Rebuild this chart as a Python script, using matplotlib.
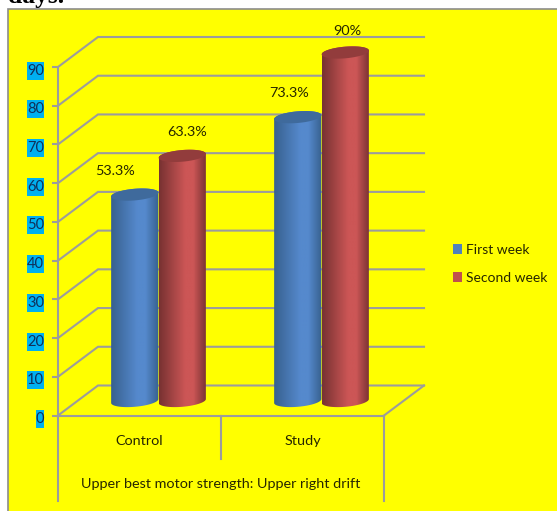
import numpy as np
import matplotlib
matplotlib.use("Agg")
import matplotlib.pyplot as plt
from matplotlib.colors import LinearSegmentedColormap
from matplotlib.patches import Patch, Polygon, Rectangle
from matplotlib.path import Path
from matplotlib.transforms import ScaledTranslation

plt.rcParams["font.family"] = ["Lato", "DejaVu Sans"]

categories = ["Control", "Study"]
first_week = [53.3, 73.3]
second_week = [63.3, 90]
series_names = ["First week", "Second week"]
y_ticks = [0, 10, 20, 30, 40, 50, 60, 70, 80, 90]
axis_title = "Upper best motor strength: Upper right drift"

W, H = 557, 511
GRAY = "#9c9c9c"
TEXT = "#262600"

fig = plt.figure(figsize=(W / 100, H / 100), dpi=100, facecolor="white")
fig.add_artist(Rectangle((8 / W, -0.01), 560 / W, 1.01 - 9 / H, transform=fig.transFigure,
                         facecolor="#ffff00", edgecolor="#8c8c8c", linewidth=1.2, zorder=-5))
fig.text(8 / W, 1 - 3 / H, "days.", family="Liberation Serif", weight="bold", fontsize=18.4,
         color="black", ha="left", va="baseline")

# front plane of the 3d box: x 58..384 px, value 0..90 = y 415.5..67 px
ax = fig.add_axes([58 / W, (H - 415.5) / H, 326 / W, 348.5 / H])
ax.patch.set_visible(False)
ax.set_xlim(0, 2)
ax.set_ylim(0, 90)

px_x = 2 / 326
px_y = 90 / 348.5
depth_x = 40 * px_x
depth_y = 30 * px_y

# walls
for v in y_ticks:
    ax.plot([0, depth_x, 2 + depth_x], [v, v + depth_y, v + depth_y], color=GRAY, lw=1.5,
            clip_on=False, zorder=1, solid_joinstyle="miter")
ax.plot([2, 2 + depth_x], [0, depth_y], color=GRAY, lw=1.5, clip_on=False, zorder=1)
ax.plot([1, 1], [0, -43 * px_y], color=GRAY, lw=1.5, clip_on=False, zorder=1)
ax.plot([0, 0], [0, -85 * px_y], color=GRAY, lw=1.5, clip_on=False, zorder=1)
ax.plot([2, 2], [0, -85 * px_y], color=GRAY, lw=1.5, clip_on=False, zorder=1)

for name in ["top", "right"]:
    ax.spines[name].set_visible(False)
for name in ["left", "bottom"]:
    ax.spines[name].set_color(GRAY)
    ax.spines[name].set_linewidth(1.5)


def tick_box(x0, y0, width, height, mutation_size):
    # tight on the digits sideways, taller than the text
    x1, y1 = x0 + width, y0 + height
    y0, y1 = y0 - 2, y1 + 2
    return Path([(x0, y0), (x1, y0), (x1, y1), (x0, y1), (x0, y0)], closed=True)


ax.set_yticks(y_ticks)
ax.tick_params(axis="y", length=4, width=1.5, color=GRAY, pad=6, labelsize=10.5, labelcolor="#10305a")
nudge = ScaledTranslation(0, -1.5 / 72, fig.dpi_scale_trans)
for lab in ax.get_yticklabels():
    lab.set_bbox(dict(facecolor="#00b0f0", edgecolor="none", boxstyle=tick_box))
    lab.set_transform(lab.get_transform() + nudge)

ax.set_xticks([0.5, 1.5], categories)
ax.tick_params(axis="x", length=0, pad=13.7, labelsize=10.35, labelcolor=TEXT)
ax.set_xlabel(axis_title, fontsize=10.35, color=TEXT, labelpad=23)

BASE = 3.75


def ellipse(cx, cy, a, b, tilt, t):
    # tilted ellipse outline, a and b in pixels, returned in data units
    ex = a * np.cos(t) * np.cos(tilt) - b * np.sin(t) * np.sin(tilt)
    ey = a * np.cos(t) * np.sin(tilt) + b * np.sin(t) * np.cos(tilt)
    return cx + ex * px_x, cy + ey * px_y


def cylinder(cx, value, edge, mid, top):
    a, b, tilt = 23.7, 5.8, np.radians(5)
    cmap = LinearSegmentedColormap.from_list("c", [(0, edge), (0.55, mid), (0.72, mid), (1, edge)])
    xl, yl = ellipse(cx, BASE, a, b, tilt, np.linspace(np.pi, 2 * np.pi, 60))
    xu, yu = ellipse(cx, BASE + value, a, b, tilt, np.linspace(0, np.pi, 60))
    body = Polygon(np.column_stack([np.r_[xl, xu], np.r_[yl, yu]]), transform=ax.transData)
    im = ax.imshow(np.linspace(0, 1, 64)[None, :], cmap=cmap, aspect="auto", zorder=3,
                   extent=[cx - a * px_x, cx + a * px_x, 0, value + 14])
    im.set_clip_box(fig.bbox)
    im.set_clip_path(body)
    tx, ty = ellipse(cx, BASE + value, a, b, tilt, np.linspace(0, 2 * np.pi, 120))
    ax.add_patch(Polygon(np.column_stack([tx, ty]), facecolor=top, edgecolor="none", zorder=3.1,
                         clip_on=False))


label_offsets = [[(-19.5, 23.5), (-9, 24)], [(5, 24), (2.5, 21)]]
styles = [("#38618f", "#5589cd", "#3f6a9c"), ("#783232", "#cc5656", "#923c3c")]
for s, values in enumerate([first_week, second_week]):
    shift = (-23.75 if s == 0 else 23.75) * px_x
    for i, v in enumerate(values):
        cx = i + 0.5 + 19 * px_x + shift
        cylinder(cx, v, *styles[s])
        dx, dy = label_offsets[s][i]
        ax.annotate(f"{v:g}%", xy=(cx, BASE + v), xytext=(dx * 0.72, dy * 0.72),
                    textcoords="offset points", ha="center", va="center", fontsize=10.35,
                    color=TEXT, zorder=5, annotation_clip=False)

ax.set_xlim(0, 2)
ax.set_ylim(0, 90)

handles = [Patch(facecolor="#4f81bd"), Patch(facecolor="#c0504d")]
fig.legend(handles, series_names, loc="center left", bbox_to_anchor=(453 / W, 1 - 264 / H),
           frameon=False, fontsize=10, labelcolor=TEXT, handlelength=0.65, handleheight=0.65,
           handletextpad=0.28, labelspacing=1.15, borderpad=0, borderaxespad=0)

fig.savefig("out.png", dpi=100, facecolor="white")
